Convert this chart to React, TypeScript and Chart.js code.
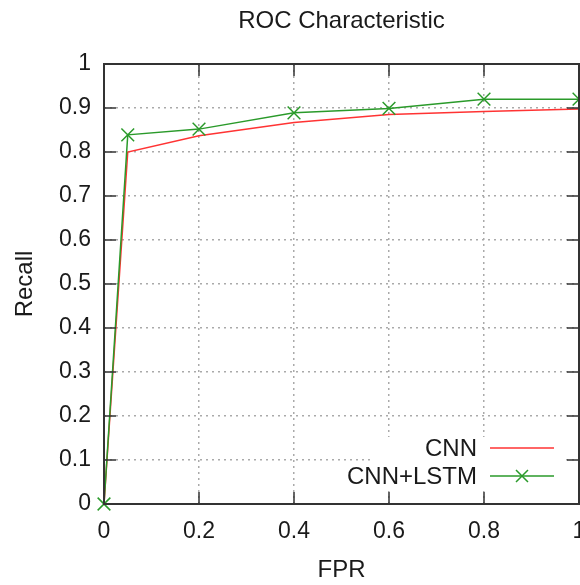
import { useEffect, useRef } from 'react';
import { Chart, registerables } from 'chart.js';

Chart.register(...registerables);

const fprValues = [0, 0.05, 0.2, 0.4, 0.6, 0.8, 1];
const cnnRecall = [0, 0.8, 0.837, 0.867, 0.885, 0.892, 0.898];
const cnnLstmRecall = [0, 0.839, 0.852, 0.889, 0.899, 0.92, 0.92];
const xTickValues = [0, 0.2, 0.4, 0.6, 0.8, 1];
const xTickLabels = ['0', '0.2', '0.4', '0.6', '0.8', '1'];
const yTickValues = [0, 0.1, 0.2, 0.3, 0.4, 0.5, 0.6, 0.7, 0.8, 0.9, 1];
const yTickLabels = ['0', '0.1', '0.2', '0.3', '0.4', '0.5', '0.6', '0.7', '0.8', '0.9', '1'];
const seriesNames = ['CNN', 'CNN+LSTM'];

const FONT = "'Liberation Sans', Arial, sans-serif";
const RED = '#ff3333';
const GREEN = '#2a9a2a';

const framePlugin = {
  id: 'gnuplotFrame',
  beforeDatasetsDraw(chart: any) {
    const { ctx, chartArea } = chart;
    const { right, bottom } = chartArea;
    ctx.save();
    ctx.fillStyle = '#ffffff';
    ctx.fillRect(right - 206, bottom - 67, 189, 54);
    ctx.restore();
  },
  afterDatasetsDraw(chart: any) {
    const { ctx, chartArea, scales } = chart;
    const { left, right, top, bottom } = chartArea;
    const tl = 12;
    ctx.save();
    ctx.strokeStyle = '#333333';
    ctx.lineWidth = 1.5;
    ctx.beginPath();
    xTickValues.forEach((v) => {
      const px = scales.x.getPixelForValue(v);
      ctx.moveTo(px, bottom);
      ctx.lineTo(px, bottom - tl);
      ctx.moveTo(px, top);
      ctx.lineTo(px, top + tl);
    });
    yTickValues.forEach((v) => {
      const py = scales.y.getPixelForValue(v);
      ctx.moveTo(left, py);
      ctx.lineTo(left + tl, py);
      ctx.moveTo(right, py);
      ctx.lineTo(right - tl, py);
    });
    ctx.stroke();
    ctx.lineWidth = 2;
    ctx.strokeRect(left, top, right - left, bottom - top);
    ctx.restore();
  },
  afterDraw(chart: any) {
    const { ctx, chartArea } = chart;
    const { right, bottom } = chartArea;
    const rows = [bottom - 56, bottom - 28];
    ctx.save();
    ctx.font = `24px ${FONT}`;
    ctx.textAlign = 'right';
    ctx.textBaseline = 'middle';
    chart.data.datasets.forEach((ds: any, i: number) => {
      const y = rows[i];
      ctx.fillStyle = '#1a1a1a';
      ctx.fillText(ds.label, right - 102, y + 1);
      ctx.strokeStyle = ds.borderColor;
      ctx.lineWidth = 1.5;
      ctx.beginPath();
      ctx.moveTo(right - 89, y);
      ctx.lineTo(right - 25, y);
      ctx.stroke();
      if (ds.pointRadius > 0) {
        const cx = right - 57;
        const r = 6;
        ctx.beginPath();
        ctx.moveTo(cx - r, y - r);
        ctx.lineTo(cx + r, y + r);
        ctx.moveTo(cx - r, y + r);
        ctx.lineTo(cx + r, y - r);
        ctx.stroke();
      }
    });
    ctx.restore();
  },
};

export default function App() {
  const ref = useRef<HTMLCanvasElement | null>(null);

  useEffect(() => {
    document.body.style.margin = '0';
    const canvas = ref.current;
    if (!canvas) return;
    const chart = new Chart(canvas, {
      type: 'line',
      data: {
        datasets: [
          {
            label: seriesNames[0],
            data: fprValues.map((x, i) => ({ x, y: cnnRecall[i] })),
            borderColor: RED,
            backgroundColor: RED,
            borderWidth: 1.5,
            pointRadius: 0,
            tension: 0,
            clip: false,
            order: 1,
          },
          {
            label: seriesNames[1],
            data: fprValues.map((x, i) => ({ x, y: cnnLstmRecall[i] })),
            borderColor: GREEN,
            backgroundColor: GREEN,
            borderWidth: 1.5,
            pointStyle: 'crossRot',
            pointRadius: 9,
            pointBorderWidth: 1.5,
            pointBorderColor: GREEN,
            tension: 0,
            clip: false,
            order: 0,
          },
        ],
      },
      plugins: [framePlugin],
      options: {
        animation: false,
        responsive: false,
        events: [],
        layout: { padding: { top: 0, right: 1, bottom: 0, left: 0 }, autoPadding: false },
        plugins: {
          legend: { display: false },
          tooltip: { enabled: false },
          title: {
            display: true,
            fullSize: false,
            text: 'ROC Characteristic',
            color: '#1a1a1a',
            font: { family: FONT, size: 24, weight: 'normal', lineHeight: 1.2 },
            padding: { top: 6.6, bottom: 28.6 },
          },
        },
        scales: {
          x: {
            type: 'linear',
            min: 0,
            max: 1,
            afterBuildTicks: (s: any) => {
              s.ticks = xTickValues.map((value) => ({ value }));
            },
            afterFit: (s: any) => {
              s.height = 81;
              s.paddingLeft = 0;
              s.paddingRight = 0;
            },
            ticks: {
              autoSkip: false,
              maxRotation: 0,
              padding: 13.7,
              color: '#1a1a1a',
              font: { family: FONT, size: 23, lineHeight: 1.2 },
              callback: (_v: any, i: number) => xTickLabels[i],
            },
            grid: { color: '#aaaaaa', lineWidth: 1.5, drawTicks: false },
            border: { display: false, dash: [2, 4] },
            title: {
              display: true,
              text: 'FPR',
              color: '#1a1a1a',
              font: { family: FONT, size: 24, lineHeight: 1.2 },
              padding: { top: 0, bottom: 0.1 },
            },
          },
          y: {
            type: 'linear',
            min: 0,
            max: 1,
            afterBuildTicks: (s: any) => {
              s.ticks = yTickValues.map((value) => ({ value }));
            },
            afterFit: (s: any) => {
              s.width = 104;
              s.paddingTop = 0;
              s.paddingBottom = 0;
            },
            ticks: {
              autoSkip: false,
              padding: 13,
              color: '#1a1a1a',
              font: { family: FONT, size: 23, lineHeight: 1.2 },
              callback: (_v: any, i: number) => yTickLabels[i],
            },
            grid: { color: '#aaaaaa', lineWidth: 1.5, drawTicks: false },
            border: { display: false, dash: [2, 4] },
            title: {
              display: true,
              text: 'Recall',
              color: '#1a1a1a',
              font: { family: FONT, size: 24, lineHeight: 1.2 },
              padding: { top: 10.6, bottom: 0 },
            },
          },
        },
      },
    } as any);
    return () => chart.destroy();
  }, []);

  return (
    <div style={{ width: 580, height: 585 }}>
      <canvas ref={ref} width={580} height={585} style={{ display: 'block' }} />
    </div>
  );
}
